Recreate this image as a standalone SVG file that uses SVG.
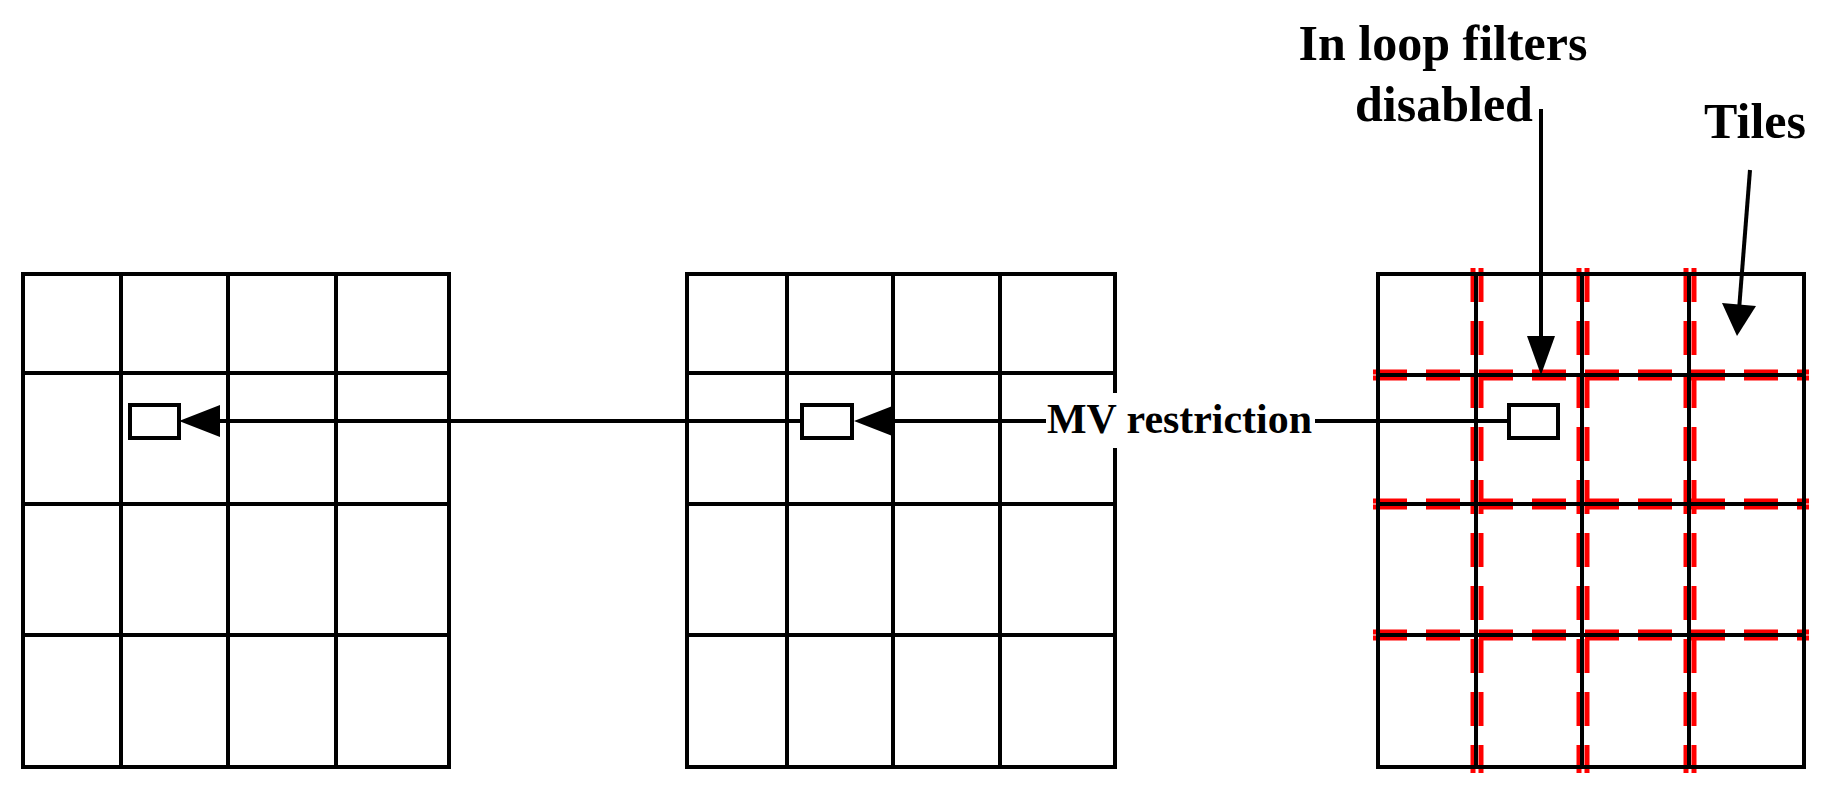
<svg xmlns="http://www.w3.org/2000/svg" width="1830" height="791" viewBox="0 0 1830 791">
<style>
.g{stroke:#000;stroke-width:4;fill:none}
.red{stroke:#f00;stroke-width:9;fill:none;stroke-dasharray:34 19}
.c{stroke:#000;stroke-width:4;fill:none}
.t{font-family:"Liberation Serif",serif;font-weight:bold;fill:#000}
</style>
<rect width="1830" height="791" fill="#fff"/>
<g id="frame1" class="g">
<rect x="23" y="274" width="426" height="493"/>
<path d="M121 274V767M228 274V767M336 274V767M23 373H449M23 504H449M23 635H449"/>
<rect x="130" y="405" width="49" height="33" fill="#fff"/>
</g>
<g id="frame2" class="g">
<path d="M1115 393V274H687V767H1115V448"/>
<path d="M787 274V767M893 274V767M1000 274V767M687 373H1115M687 504H1115M687 635H1115"/>
</g>
<g id="frame3">
<g class="red">
<path d="M1473 268V773M1481 268V773M1579 268V773M1587 268V773M1686 268V773M1694 268V773" stroke-width="5"/>
<path d="M1373 372H1809M1373 378H1809M1373 501H1809M1373 507H1809M1373 632H1809M1373 638H1809" stroke-width="5"/>
</g>
<g class="g">
<rect x="1378" y="274" width="426" height="493"/>
<path d="M1476 274V767M1582 274V767M1689 274V767M1378 375H1804M1378 504H1804M1378 635H1804"/>
</g>
</g>
<g id="connectors">
<path class="c" d="M802 421H210"/>
<polygon points="179,421 220,405 220,437"/>
<path class="c" d="M1046 421H885"/>
<polygon points="854,421 895,405 895,437"/>
<path class="c" d="M1315 421H1509"/>
<path class="c" d="M1541 109V345"/>
<polygon points="1541,375 1527,336 1555,336"/>
<path class="c" d="M1750 170L1739 310"/>
<polygon points="1737,336 1722,303 1756,306"/>
</g>
<g id="block2" class="g"><rect x="802" y="405" width="50" height="33" fill="#fff"/></g>
<g id="block3" class="g"><rect x="1509" y="405" width="49" height="33" fill="#fff"/></g>
<g id="labels">
<text class="t" x="1443" y="60" font-size="50" text-anchor="middle">In loop filters</text>
<text class="t" x="1444" y="121" font-size="50" text-anchor="middle">disabled</text>
<text class="t" x="1755" y="138" font-size="50" text-anchor="middle">Tiles</text>
<text class="t" x="1047" y="433" font-size="42" textLength="265" lengthAdjust="spacingAndGlyphs">MV restriction</text>
</g>
</svg>
